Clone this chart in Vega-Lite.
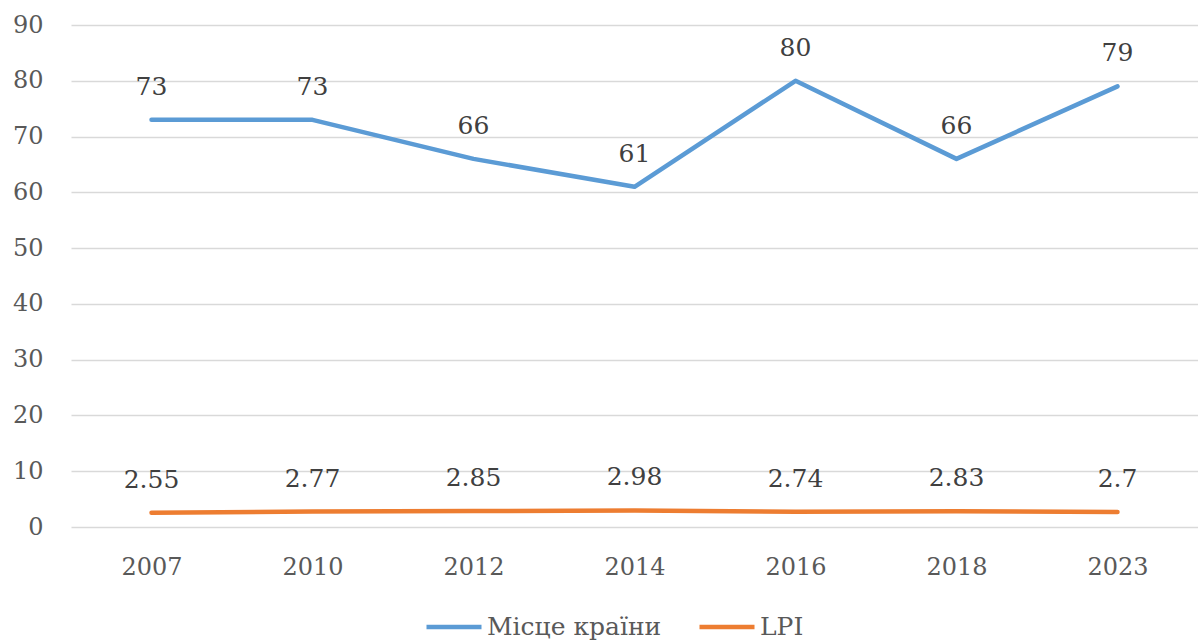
{
  "$schema": "https://vega.github.io/schema/vega-lite/v6.json",
  "autosize": {"type": "none"},
  "width": 1127,
  "height": 502,
  "padding": {"left": 71, "top": 25, "right": 0, "bottom": 115},
  "background": "white",
  "config": {
    "view": {"stroke": null},
    "font": "DejaVu Serif"
  },
  "data": {
    "values": [
      {"year": "2007", "series": "Місце країни", "value": 73},
      {"year": "2010", "series": "Місце країни", "value": 73},
      {"year": "2012", "series": "Місце країни", "value": 66},
      {"year": "2014", "series": "Місце країни", "value": 61},
      {"year": "2016", "series": "Місце країни", "value": 80},
      {"year": "2018", "series": "Місце країни", "value": 66},
      {"year": "2023", "series": "Місце країни", "value": 79},
      {"year": "2007", "series": "LPI", "value": 2.55},
      {"year": "2010", "series": "LPI", "value": 2.77},
      {"year": "2012", "series": "LPI", "value": 2.85},
      {"year": "2014", "series": "LPI", "value": 2.98},
      {"year": "2016", "series": "LPI", "value": 2.74},
      {"year": "2018", "series": "LPI", "value": 2.83},
      {"year": "2023", "series": "LPI", "value": 2.7}
    ]
  },
  "encoding": {
    "x": {
      "field": "year", "type": "ordinal", "title": null,
      "scale": {"type": "point", "padding": 0.5},
      "axis": {
        "labelAngle": 0, "labelFontSize": 24, "labelColor": "#595959",
        "labelFont": "DejaVu Serif", "labelPadding": 28,
        "ticks": false, "domain": false, "grid": false
      }
    },
    "y": {
      "field": "value", "type": "quantitative", "title": null,
      "scale": {"domain": [0, 90], "nice": false},
      "axis": {
        "values": [0, 10, 20, 30, 40, 50, 60, 70, 80, 90],
        "labelFontSize": 24, "labelColor": "#595959",
        "labelFont": "DejaVu Serif", "labelPadding": 28,
        "ticks": false, "domain": false,
        "gridColor": "#D9D9D9", "gridWidth": 1.5
      }
    },
    "color": {
      "field": "series", "type": "nominal", "title": null,
      "scale": {"domain": ["Місце країни", "LPI"], "range": ["#5B9BD5", "#ED7D31"]},
      "legend": {
        "orient": "none", "legendX": 353, "legendY": 572, "direction": "horizontal",
        "symbolType": "stroke", "symbolSize": 3025, "symbolStrokeWidth": 4.5,
        "labelFontSize": 25, "labelColor": "#595959", "labelFont": "DejaVu Serif",
        "labelOffset": 3, "columnPadding": 28, "labelLimit": 500
      }
    }
  },
  "layer": [
    {
      "mark": {"type": "line", "strokeWidth": 4.5, "strokeCap": "round", "strokeJoin": "round"}
    },
    {
      "mark": {"type": "text", "fontSize": 25, "baseline": "alphabetic", "dy": -25, "font": "DejaVu Serif"},
      "encoding": {
        "text": {"field": "value", "type": "quantitative"},
        "color": {"value": "#404040"}
      }
    }
  ]
}
